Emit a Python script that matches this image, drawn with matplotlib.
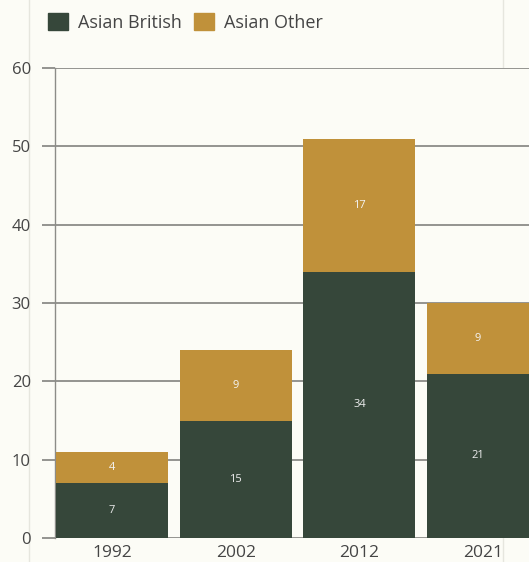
import matplotlib
matplotlib.use("Agg")
import matplotlib.pyplot as plt
from matplotlib.lines import Line2D
from matplotlib.patches import Patch

years = ["1992", "2002", "2012", "2021"]
asian_british = [7, 15, 34, 21]
asian_other = [4, 9, 17, 9]

green = "#36473a"
gold = "#c0913a"
bg = "#fcfcf6"
grid_col = "#8c8c88"
text_col = "#454545"

plt.rcParams['font.family'] = ['Open Sans', 'DejaVu Sans']

fig = plt.figure(figsize=(5.29, 5.62), dpi=100, facecolor=bg)
ax = fig.add_axes([55 / 529, 24 / 562, 474 / 529, 470 / 562], facecolor=bg)

# faint page borders
for xf in (29 / 529, 503 / 529):
    fig.add_artist(Line2D([xf, xf], [0, 1], transform=fig.transFigure,
                          color="#e6e6de", lw=1, zorder=0))

x = range(len(years))
w = 0.905
b1 = ax.bar(x, asian_british, width=w, color=green, zorder=3)
b2 = ax.bar(x, asian_other, width=w, bottom=asian_british, color=gold, zorder=3)
ax.bar_label(b1, label_type="center", color="#ececec", fontsize=8)
ax.bar_label(b2, label_type="center", color="#f4f4f4", fontsize=8)

ax.set_xlim(-0.461, 3.371)
ax.set_ylim(0, 60)
ax.set_yticks(range(0, 61, 10))
ax.set_xticks(list(x))
ax.set_xticklabels(years)
ax.yaxis.grid(True, color=grid_col, lw=1.3, zorder=1)
ax.set_axisbelow(True)

for s in ("top", "right", "bottom"):
    ax.spines[s].set_visible(False)
ax.spines["left"].set_color(grid_col)
ax.spines["left"].set_linewidth(1.0)

ax.tick_params(axis="y", length=9.4, width=1.3, color=grid_col, pad=8,
               labelsize=12, labelcolor=text_col)
ax.tick_params(axis="x", length=0, pad=5, labelsize=12.5, labelcolor=text_col)

handles = [Patch(color=green, label="Asian British"),
           Patch(color=gold, label="Asian Other")]
fig.legend(handles=handles, loc="upper left", bbox_to_anchor=(48 / 529, 1 - 13 / 562),
           ncol=2, frameon=False, fontsize=13, labelcolor=text_col,
           borderpad=0, borderaxespad=0,
           handlelength=1.1, handleheight=1.1, handletextpad=0.55, columnspacing=0.7)

fig.savefig("out.png", dpi=100, facecolor=bg)
